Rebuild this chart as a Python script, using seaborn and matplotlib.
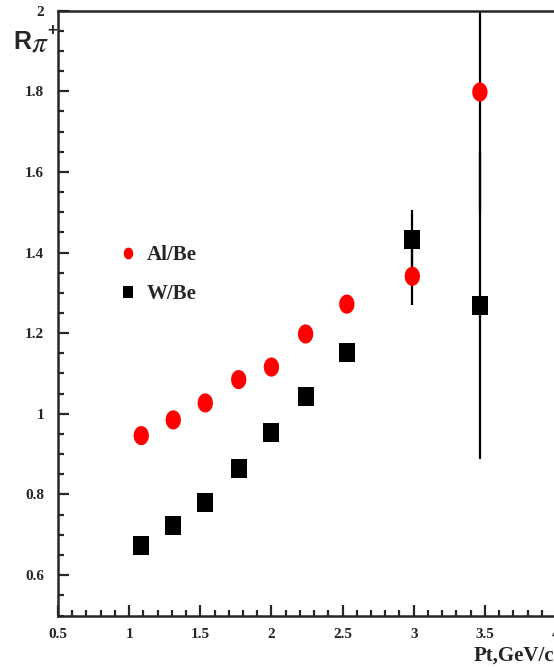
import matplotlib
matplotlib.use("Agg")
import matplotlib.pyplot as plt
from matplotlib.ticker import MultipleLocator
from matplotlib.lines import Line2D
import seaborn as sns
import pandas as pd
import numpy as np

# Data
pt_al = [1.085, 1.31, 1.535, 1.77, 2.0, 2.24, 2.53, 2.99, 3.465]
r_al = [0.946, 0.985, 1.027, 1.085, 1.116, 1.198, 1.272, 1.341, 1.798]
err_al = [0.0, 0.0, 0.0, 0.0, 0.0, 0.0, 0.0, 0.07, 0.30]
pt_w = [1.085, 1.31, 1.535, 1.77, 2.0, 2.24, 2.53, 2.99, 3.465]
r_w = [0.674, 0.723, 0.780, 0.864, 0.953, 1.044, 1.153, 1.432, 1.269]
err_w = [0.0, 0.0, 0.0, 0.0, 0.0, 0.0, 0.0, 0.073, 0.38]
series_names = ["Al/Be", "W/Be"]
xticks = [0.5, 1, 1.5, 2, 2.5, 3, 3.5, 4]
xtick_labels = ["0.5", "1", "1.5", "2", "2.5", "3", "3.5", "4"]
yticks = [0.6, 0.8, 1.0, 1.2, 1.4, 1.6, 1.8, 2.0]
ytick_labels = ["0.6", "0.8", "1", "1.2", "1.4", "1.6", "1.8", "2"]

sns.set_style("ticks")
plt.rcParams["font.family"] = ["Liberation Serif", "DejaVu Serif"]

df = pd.DataFrame({
    "pt": pt_al + pt_w,
    "r": r_al + r_w,
    "series": [series_names[0]] * len(pt_al) + [series_names[1]] * len(pt_w),
})

# tall marker shapes (slightly taller than wide, as in the reference)
t = np.linspace(0, 2 * np.pi, 60, endpoint=False)
ellipse = list(zip(0.40 * np.cos(t), 0.5 * np.sin(t)))
rect = [(-0.42, -0.5), (0.42, -0.5), (0.42, 0.5), (-0.42, 0.5)]

fig = plt.figure(figsize=(5.54, 6.67), dpi=100)
W, H = 554, 667
ax = fig.add_axes([58 / W, 1 - 615.5 / H, (556 - 58) / W, (615.5 - 10.5) / H])

# error bars
ax.errorbar([p for p, e in zip(pt_w, err_w) if e > 0], [r for r, e in zip(r_w, err_w) if e > 0],
            yerr=[e for e in err_w if e > 0], fmt="none", ecolor="black", elinewidth=1.6, capsize=0, zorder=1)
ax.errorbar([p for p, e in zip(pt_al, err_al) if e > 0], [r for r, e in zip(r_al, err_al) if e > 0],
            yerr=[e for e in err_al if e > 0], fmt="none", ecolor="black", elinewidth=1.6, capsize=0, zorder=1)

sns.scatterplot(data=df, x="pt", y="r", hue="series", style="series",
                palette={"Al/Be": "#ff0000", "W/Be": "black"},
                markers={"Al/Be": ellipse, "W/Be": rect}, s=190, linewidth=0,
                legend=False, ax=ax, zorder=3)

ax.set_xlim(0.5, 4.0)
ax.set_ylim(0.5, 2.0)
ax.set_xlabel("")
ax.set_ylabel("")
ax.set_xticks(xticks)
ax.set_xticklabels(xtick_labels)
ax.set_yticks(yticks)
ax.set_yticklabels(ytick_labels)
ax.xaxis.set_minor_locator(MultipleLocator(0.1))
ax.yaxis.set_minor_locator(MultipleLocator(0.05))
ax.tick_params(which="major", direction="in", length=8, width=1.6, labelsize=11, pad=10)
ax.tick_params(which="minor", direction="in", length=4.5, width=1.6)
ax.tick_params(axis="x", which="major", pad=9)
for lab in ax.get_xticklabels() + ax.get_yticklabels():
    lab.set_fontweight("bold")
for side in ["left", "bottom", "top"]:
    ax.spines[side].set_linewidth(1.8)
    ax.spines[side].set_visible(True)
ax.spines["right"].set_visible(False)
ax.grid(False)

# legend
handles = [
    Line2D([], [], marker=ellipse, color="#ff0000", linestyle="none", markersize=8.5, markeredgewidth=0),
    Line2D([], [], marker=rect, color="black", linestyle="none", markersize=9, markeredgewidth=0),
]
leg = ax.legend(handles, series_names, loc="center left", bbox_to_anchor=(0.119, 0.563),
                frameon=False, handletextpad=0.4, labelspacing=0.92, handlelength=1.0,
                borderaxespad=0, borderpad=0,
                prop={"family": "Liberation Serif", "weight": "bold", "size": 15})

# axis labels
fig.text(554 / W, 1 - 656 / H, "Pt,GeV/c", ha="right", va="center", fontsize=15,
         fontweight="bold", family="Liberation Serif")
fig.text(13 / W, 1 - 42 / H, "R", ha="left", va="center", fontsize=18,
         fontweight="bold", family="Liberation Sans")
fig.text(31 / W, 1 - 45 / H, r"$\pi$", ha="left", va="center", fontsize=21,
         math_fontfamily="stix")
fig.text(47 / W, 1 - 30 / H, "+", ha="left", va="center", fontsize=12,
         fontweight="bold", family="Liberation Sans")

fig.savefig("out.png", dpi=100)
